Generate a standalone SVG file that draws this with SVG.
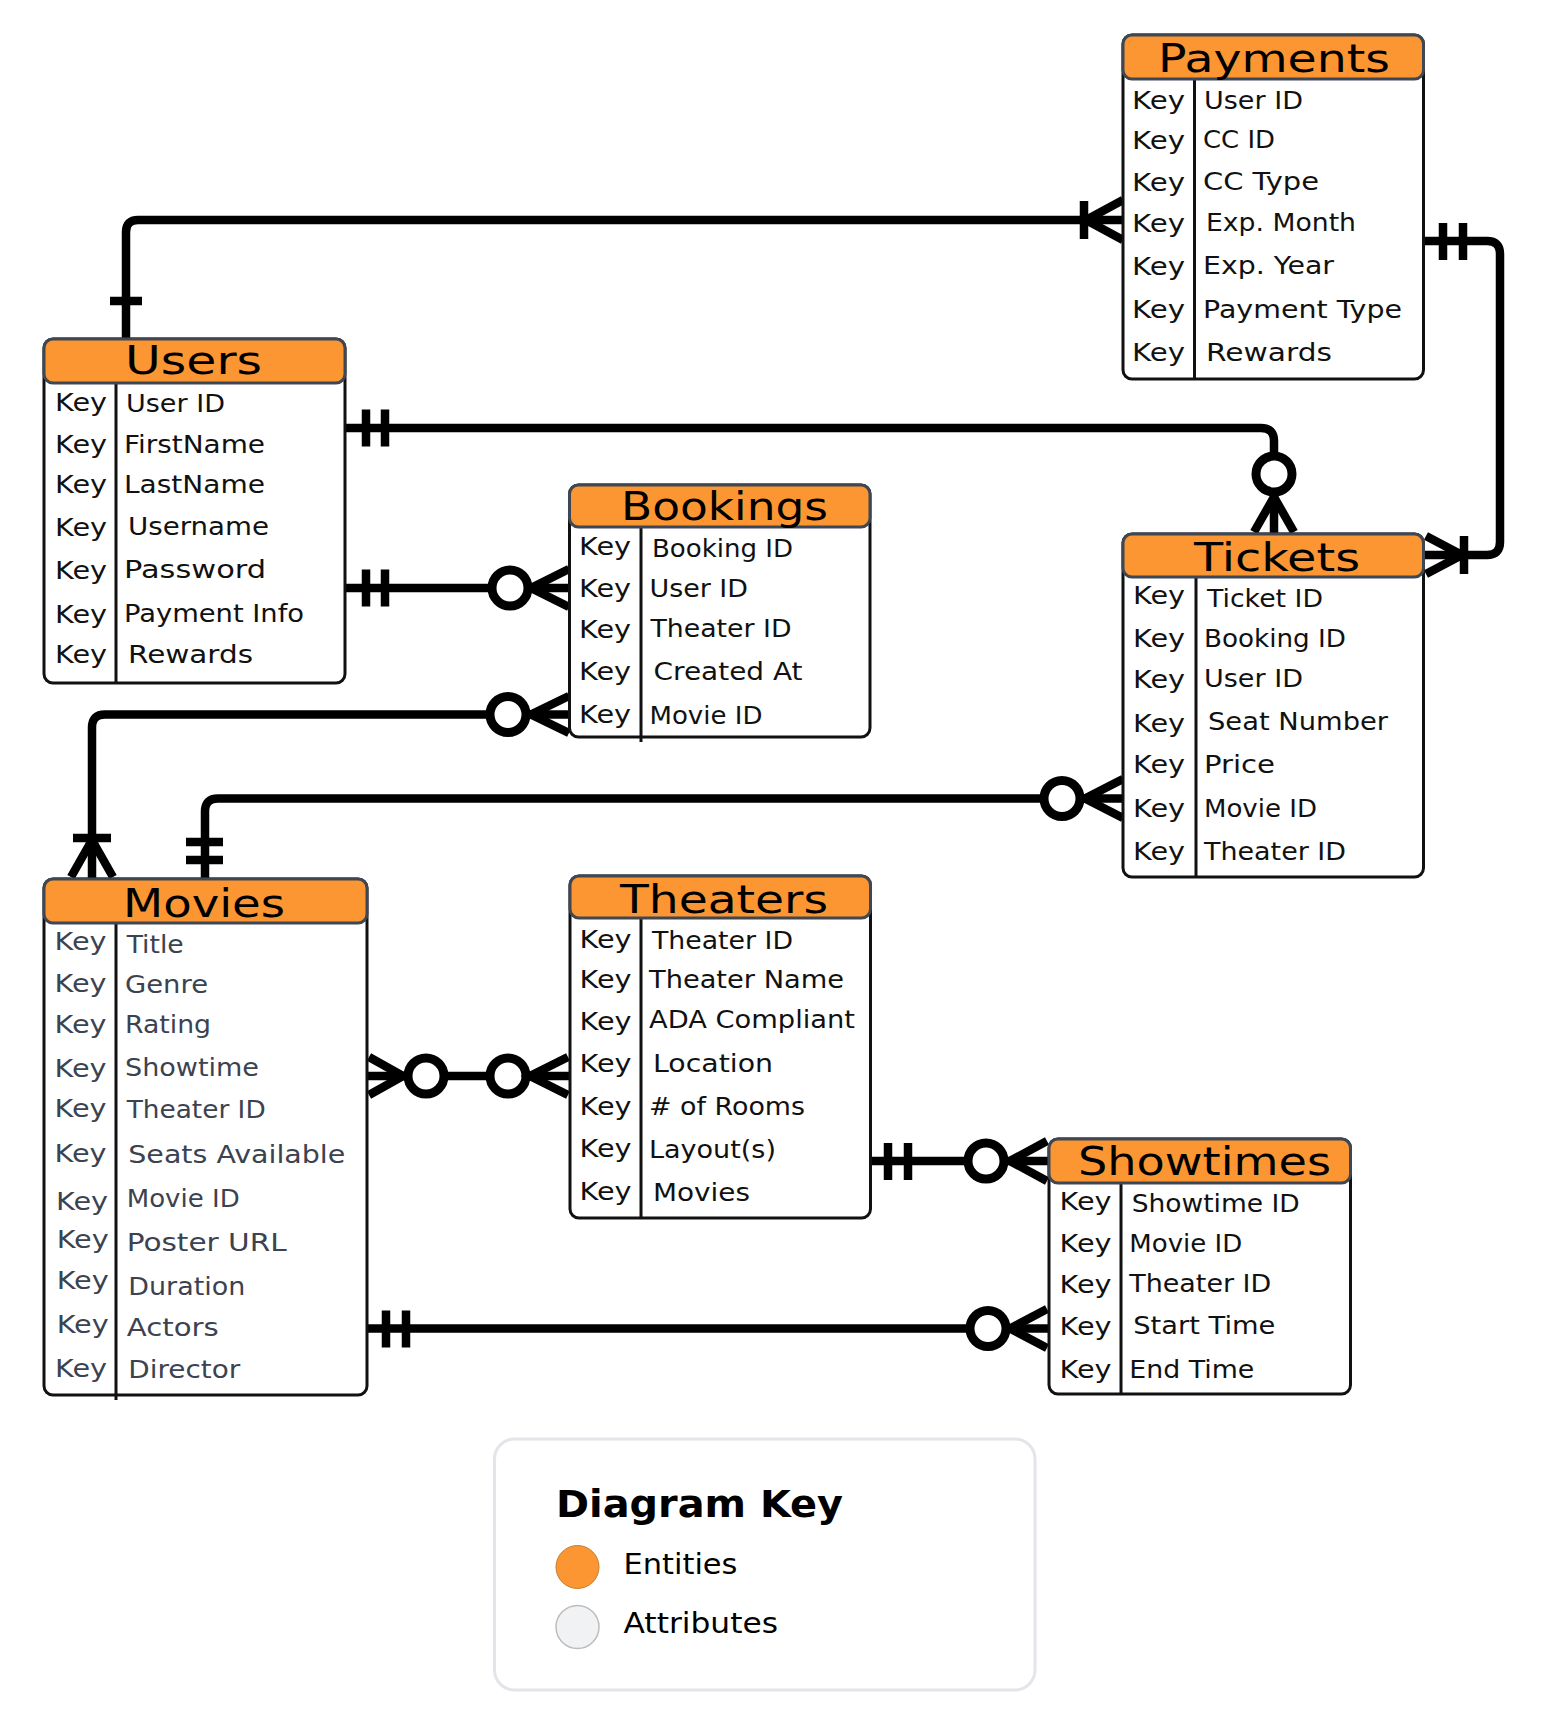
<svg xmlns="http://www.w3.org/2000/svg" width="1549" height="1712" viewBox="0 0 1549 1712">
<style>
.bg{fill:#fff}
.box{fill:#fff;stroke:#111;stroke-width:3}
.hdr{fill:#fb9633;stroke:#3f4753;stroke-width:3}
.dv{stroke:#111;stroke-width:3}
text{font-family:"DejaVu Sans","Liberation Sans",sans-serif}
.t{font-size:24px;fill:#111}
.m{font-size:24px;fill:#3b4250}
.ttl{font-size:39px;fill:#000}
.conn{fill:none;stroke:#000;stroke-width:8.5}
.mk{fill:none;stroke:#000;stroke-width:8.5;stroke-linecap:butt}
.ring{fill:#fff;stroke:#000;stroke-width:9}
.lg{fill:#fff;stroke:#e3e5ea;stroke-width:3}
</style>
<rect class="bg" x="0" y="0" width="1549" height="1712"/>

<g id="connectors">
  <!-- Users - Payments -->
  <path class="conn" d="M126 339 V232 Q126 220 138 220 H1123"/>
  <path class="mk" d="M110 301 H142"/>
  <path class="mk" d="M1084 201 V239 M1123 200 L1086 220 L1123 240"/>
  <!-- Payments - Tickets -->
  <path class="conn" d="M1424 241 H1487 Q1500 241 1500 254 V542 Q1500 555 1487 555 H1424"/>
  <path class="mk" d="M1443 223 V260 M1463 223 V260"/>
  <path class="mk" d="M1464 536 V574 M1426 536 L1462 555 L1426 574"/>
  <!-- Users - Tickets -->
  <path class="conn" d="M345 428 H1261 Q1274 428 1274 441 V534"/>
  <path class="mk" d="M366 409.5 V446.5 M385 409.5 V446.5"/>
  <path class="mk" d="M1254 532 L1274 497 L1294 532"/>
  <circle class="ring" cx="1274" cy="474" r="18"/>
  <!-- Users - Bookings -->
  <path class="conn" d="M345 588 H569"/>
  <path class="mk" d="M366 569.5 V606.5 M385 569.5 V606.5"/>
  <path class="mk" d="M569 569 L531 588 L569 607"/>
  <circle class="ring" cx="510" cy="588" r="18"/>
  <!-- Bookings - Movies -->
  <path class="conn" d="M569 714.5 H105 Q92 714.5 92 727.5 V879"/>
  <path class="mk" d="M569 696 L531 714.5 L569 733"/>
  <circle class="ring" cx="508" cy="714.5" r="18"/>
  <path class="mk" d="M73 838 H111 M71 877 L92 840 L113 877"/>
  <!-- Tickets - Movies -->
  <path class="conn" d="M1123 798.5 H218 Q205 798.5 205 811.5 V879"/>
  <path class="mk" d="M1123 779 L1085 798.5 L1123 818"/>
  <circle class="ring" cx="1062" cy="798.5" r="18"/>
  <path class="mk" d="M186 842 H223 M186 860 H223"/>
  <!-- Movies - Theaters -->
  <path class="conn" d="M367 1076 H570"/>
  <path class="mk" d="M369 1057 L403 1076 L369 1095"/>
  <circle class="ring" cx="426" cy="1076" r="18"/>
  <circle class="ring" cx="508" cy="1076" r="18"/>
  <path class="mk" d="M568 1057 L530 1076 L568 1095"/>
  <!-- Theaters - Showtimes -->
  <path class="conn" d="M870 1161 H1049"/>
  <path class="mk" d="M888 1143 V1180 M908 1143 V1180"/>
  <path class="mk" d="M1047 1141 L1010 1161 L1047 1181"/>
  <circle class="ring" cx="986" cy="1161" r="18"/>
  <!-- Movies - Showtimes -->
  <path class="conn" d="M367 1328.5 H1049"/>
  <path class="mk" d="M386 1310.5 V1347.5 M406 1310.5 V1347.5"/>
  <path class="mk" d="M1047 1309 L1010 1328.5 L1047 1348"/>
  <circle class="ring" cx="988" cy="1328.5" r="18"/>
</g>

<g id="payments">
  <rect class="box" x="1123" y="35" width="300.5" height="344" rx="9"/>
  <line class="dv" x1="1194.5" y1="79" x2="1194.5" y2="379"/>
  <rect class="hdr" x="1123" y="35" width="300.5" height="44" rx="9"/>
  <text class="ttl" x="1158" y="71.5" textLength="232" lengthAdjust="spacingAndGlyphs">Payments</text>
  <text class="t" x="1132" y="108.5" textLength="53" lengthAdjust="spacingAndGlyphs">Key</text>
  <text class="t" x="1132" y="148.5" textLength="53" lengthAdjust="spacingAndGlyphs">Key</text>
  <text class="t" x="1132" y="190.5" textLength="53" lengthAdjust="spacingAndGlyphs">Key</text>
  <text class="t" x="1132" y="232" textLength="53" lengthAdjust="spacingAndGlyphs">Key</text>
  <text class="t" x="1132" y="275" textLength="53" lengthAdjust="spacingAndGlyphs">Key</text>
  <text class="t" x="1132" y="317.5" textLength="53" lengthAdjust="spacingAndGlyphs">Key</text>
  <text class="t" x="1132" y="360.5" textLength="53" lengthAdjust="spacingAndGlyphs">Key</text>
  <text class="t" x="1204" y="109" textLength="99" lengthAdjust="spacingAndGlyphs">User ID</text>
  <text class="t" x="1203" y="148" textLength="72" lengthAdjust="spacingAndGlyphs">CC ID</text>
  <text class="t" x="1203" y="190" textLength="116" lengthAdjust="spacingAndGlyphs">CC Type</text>
  <text class="t" x="1206" y="231" textLength="150" lengthAdjust="spacingAndGlyphs">Exp. Month</text>
  <text class="t" x="1203" y="274" textLength="131" lengthAdjust="spacingAndGlyphs">Exp. Year</text>
  <text class="t" x="1203" y="318" textLength="199" lengthAdjust="spacingAndGlyphs">Payment Type</text>
  <text class="t" x="1206" y="361" textLength="126" lengthAdjust="spacingAndGlyphs">Rewards</text>
</g>

<g id="users">
  <rect class="box" x="44" y="339" width="301" height="344" rx="9"/>
  <line class="dv" x1="116" y1="383" x2="116" y2="683"/>
  <rect class="hdr" x="44" y="339" width="301" height="44" rx="9"/>
  <text class="ttl" x="125" y="374" textLength="137" lengthAdjust="spacingAndGlyphs">Users</text>
  <text class="t" x="55" y="411" textLength="52" lengthAdjust="spacingAndGlyphs">Key</text>
  <text class="t" x="55" y="453" textLength="52" lengthAdjust="spacingAndGlyphs">Key</text>
  <text class="t" x="55" y="493" textLength="52" lengthAdjust="spacingAndGlyphs">Key</text>
  <text class="t" x="55" y="536" textLength="52" lengthAdjust="spacingAndGlyphs">Key</text>
  <text class="t" x="55" y="579" textLength="52" lengthAdjust="spacingAndGlyphs">Key</text>
  <text class="t" x="55" y="623" textLength="52" lengthAdjust="spacingAndGlyphs">Key</text>
  <text class="t" x="55" y="663" textLength="52" lengthAdjust="spacingAndGlyphs">Key</text>
  <text class="t" x="126" y="412" textLength="99" lengthAdjust="spacingAndGlyphs">User ID</text>
  <text class="t" x="124" y="453" textLength="141" lengthAdjust="spacingAndGlyphs">FirstName</text>
  <text class="t" x="124" y="493" textLength="141" lengthAdjust="spacingAndGlyphs">LastName</text>
  <text class="t" x="128" y="535" textLength="141" lengthAdjust="spacingAndGlyphs">Username</text>
  <text class="t" x="124" y="578" textLength="142" lengthAdjust="spacingAndGlyphs">Password</text>
  <text class="t" x="124" y="622" textLength="180" lengthAdjust="spacingAndGlyphs">Payment Info</text>
  <text class="t" x="128" y="663" textLength="125" lengthAdjust="spacingAndGlyphs">Rewards</text>
</g>

<g id="bookings">
  <rect class="box" x="569.5" y="485" width="300.5" height="252" rx="9"/>
  <line class="dv" x1="641" y1="527" x2="641" y2="742"/>
  <rect class="hdr" x="569.5" y="485" width="300.5" height="42" rx="9"/>
  <text class="ttl" x="621" y="520" textLength="207" lengthAdjust="spacingAndGlyphs">Bookings</text>
  <text class="t" x="579" y="555" textLength="52" lengthAdjust="spacingAndGlyphs">Key</text>
  <text class="t" x="579" y="597" textLength="52" lengthAdjust="spacingAndGlyphs">Key</text>
  <text class="t" x="579" y="638" textLength="52" lengthAdjust="spacingAndGlyphs">Key</text>
  <text class="t" x="579" y="680" textLength="52" lengthAdjust="spacingAndGlyphs">Key</text>
  <text class="t" x="579" y="723" textLength="52" lengthAdjust="spacingAndGlyphs">Key</text>
  <text class="t" x="652" y="557" textLength="141" lengthAdjust="spacingAndGlyphs">Booking ID</text>
  <text class="t" x="649.5" y="597" textLength="98.5" lengthAdjust="spacingAndGlyphs">User ID</text>
  <text class="t" x="650.5" y="637" textLength="141" lengthAdjust="spacingAndGlyphs">Theater ID</text>
  <text class="t" x="653.5" y="680" textLength="149" lengthAdjust="spacingAndGlyphs">Created At</text>
  <text class="t" x="649.5" y="724" textLength="113" lengthAdjust="spacingAndGlyphs">Movie ID</text>
</g>

<g id="tickets">
  <rect class="box" x="1123" y="534" width="300.5" height="343" rx="9"/>
  <line class="dv" x1="1196" y1="577" x2="1196" y2="877"/>
  <rect class="hdr" x="1123" y="534" width="300.5" height="43" rx="9"/>
  <text class="ttl" x="1194" y="570.5" textLength="166" lengthAdjust="spacingAndGlyphs">Tickets</text>
  <text class="t" x="1133" y="604" textLength="52" lengthAdjust="spacingAndGlyphs">Key</text>
  <text class="t" x="1133" y="647" textLength="52" lengthAdjust="spacingAndGlyphs">Key</text>
  <text class="t" x="1133" y="688" textLength="52" lengthAdjust="spacingAndGlyphs">Key</text>
  <text class="t" x="1133" y="731.5" textLength="52" lengthAdjust="spacingAndGlyphs">Key</text>
  <text class="t" x="1133" y="773" textLength="52" lengthAdjust="spacingAndGlyphs">Key</text>
  <text class="t" x="1133" y="817" textLength="52" lengthAdjust="spacingAndGlyphs">Key</text>
  <text class="t" x="1133" y="860" textLength="52" lengthAdjust="spacingAndGlyphs">Key</text>
  <text class="t" x="1207" y="607" textLength="116" lengthAdjust="spacingAndGlyphs">Ticket ID</text>
  <text class="t" x="1204" y="647" textLength="142" lengthAdjust="spacingAndGlyphs">Booking ID</text>
  <text class="t" x="1204" y="687" textLength="99" lengthAdjust="spacingAndGlyphs">User ID</text>
  <text class="t" x="1208" y="730" textLength="180" lengthAdjust="spacingAndGlyphs">Seat Number</text>
  <text class="t" x="1204" y="773" textLength="71" lengthAdjust="spacingAndGlyphs">Price</text>
  <text class="t" x="1204" y="817" textLength="113" lengthAdjust="spacingAndGlyphs">Movie ID</text>
  <text class="t" x="1204" y="860" textLength="142" lengthAdjust="spacingAndGlyphs">Theater ID</text>
</g>

<g id="movies">
  <rect class="box" x="44" y="879" width="323" height="516" rx="9"/>
  <line class="dv" x1="116" y1="923" x2="116" y2="1400"/>
  <rect class="hdr" x="44" y="879" width="323" height="44" rx="9"/>
  <text class="ttl" x="123" y="917" textLength="162" lengthAdjust="spacingAndGlyphs">Movies</text>
  <text class="m" x="54.5" y="950" textLength="52" lengthAdjust="spacingAndGlyphs">Key</text>
  <text class="m" x="54.5" y="992" textLength="52" lengthAdjust="spacingAndGlyphs">Key</text>
  <text class="m" x="54.5" y="1033" textLength="52" lengthAdjust="spacingAndGlyphs">Key</text>
  <text class="m" x="54.5" y="1077" textLength="52" lengthAdjust="spacingAndGlyphs">Key</text>
  <text class="m" x="54.5" y="1117" textLength="52" lengthAdjust="spacingAndGlyphs">Key</text>
  <text class="m" x="54.5" y="1162" textLength="52" lengthAdjust="spacingAndGlyphs">Key</text>
  <text class="m" x="56" y="1210" textLength="52" lengthAdjust="spacingAndGlyphs">Key</text>
  <text class="m" x="56.7" y="1248" textLength="52" lengthAdjust="spacingAndGlyphs">Key</text>
  <text class="m" x="56.7" y="1289" textLength="52" lengthAdjust="spacingAndGlyphs">Key</text>
  <text class="m" x="56.7" y="1333" textLength="52" lengthAdjust="spacingAndGlyphs">Key</text>
  <text class="m" x="55" y="1377" textLength="52" lengthAdjust="spacingAndGlyphs">Key</text>
  <text class="m" x="126.7" y="953" textLength="57" lengthAdjust="spacingAndGlyphs">Title</text>
  <text class="m" x="125" y="993" textLength="83" lengthAdjust="spacingAndGlyphs">Genre</text>
  <text class="m" x="125" y="1033" textLength="86" lengthAdjust="spacingAndGlyphs">Rating</text>
  <text class="m" x="125" y="1076" textLength="134" lengthAdjust="spacingAndGlyphs">Showtime</text>
  <text class="m" x="126.7" y="1118" textLength="139" lengthAdjust="spacingAndGlyphs">Theater ID</text>
  <text class="m" x="128.3" y="1163" textLength="217" lengthAdjust="spacingAndGlyphs">Seats Available</text>
  <text class="m" x="126.7" y="1207" textLength="113" lengthAdjust="spacingAndGlyphs">Movie ID</text>
  <text class="m" x="126.7" y="1251" textLength="160" lengthAdjust="spacingAndGlyphs">Poster URL</text>
  <text class="m" x="128.3" y="1295" textLength="117" lengthAdjust="spacingAndGlyphs">Duration</text>
  <text class="m" x="126.7" y="1336" textLength="92" lengthAdjust="spacingAndGlyphs">Actors</text>
  <text class="m" x="128.3" y="1378" textLength="112" lengthAdjust="spacingAndGlyphs">Director</text>
</g>

<g id="theaters">
  <rect class="box" x="570" y="876" width="300.5" height="342" rx="9"/>
  <line class="dv" x1="641" y1="918" x2="641" y2="1218"/>
  <rect class="hdr" x="570" y="876" width="300.5" height="42" rx="9"/>
  <text class="ttl" x="620" y="913" textLength="208" lengthAdjust="spacingAndGlyphs">Theaters</text>
  <text class="t" x="579.5" y="948" textLength="52" lengthAdjust="spacingAndGlyphs">Key</text>
  <text class="t" x="579.5" y="988" textLength="52" lengthAdjust="spacingAndGlyphs">Key</text>
  <text class="t" x="579.5" y="1030" textLength="52" lengthAdjust="spacingAndGlyphs">Key</text>
  <text class="t" x="579.5" y="1072" textLength="52" lengthAdjust="spacingAndGlyphs">Key</text>
  <text class="t" x="579.5" y="1115" textLength="52" lengthAdjust="spacingAndGlyphs">Key</text>
  <text class="t" x="579.5" y="1157" textLength="52" lengthAdjust="spacingAndGlyphs">Key</text>
  <text class="t" x="579.5" y="1200" textLength="52" lengthAdjust="spacingAndGlyphs">Key</text>
  <text class="t" x="652" y="949" textLength="141" lengthAdjust="spacingAndGlyphs">Theater ID</text>
  <text class="t" x="649" y="988" textLength="195" lengthAdjust="spacingAndGlyphs">Theater Name</text>
  <text class="t" x="649" y="1028" textLength="206" lengthAdjust="spacingAndGlyphs">ADA Compliant</text>
  <text class="t" x="653" y="1072" textLength="120" lengthAdjust="spacingAndGlyphs">Location</text>
  <text class="t" x="649" y="1115" textLength="156" lengthAdjust="spacingAndGlyphs"># of Rooms</text>
  <text class="t" x="649" y="1158" textLength="127" lengthAdjust="spacingAndGlyphs">Layout(s)</text>
  <text class="t" x="653" y="1201" textLength="97" lengthAdjust="spacingAndGlyphs">Movies</text>
</g>

<g id="showtimes">
  <rect class="box" x="1049" y="1139" width="301.5" height="255" rx="9"/>
  <line class="dv" x1="1121" y1="1183" x2="1121" y2="1394"/>
  <rect class="hdr" x="1049" y="1139" width="301.5" height="44" rx="9"/>
  <text class="ttl" x="1078" y="1175" textLength="253" lengthAdjust="spacingAndGlyphs">Showtimes</text>
  <text class="t" x="1059.5" y="1210" textLength="52" lengthAdjust="spacingAndGlyphs">Key</text>
  <text class="t" x="1059.5" y="1252" textLength="52" lengthAdjust="spacingAndGlyphs">Key</text>
  <text class="t" x="1059.5" y="1293" textLength="52" lengthAdjust="spacingAndGlyphs">Key</text>
  <text class="t" x="1059.5" y="1335" textLength="52" lengthAdjust="spacingAndGlyphs">Key</text>
  <text class="t" x="1059.5" y="1378" textLength="52" lengthAdjust="spacingAndGlyphs">Key</text>
  <text class="t" x="1131.7" y="1212" textLength="168" lengthAdjust="spacingAndGlyphs">Showtime ID</text>
  <text class="t" x="1129.3" y="1252" textLength="113" lengthAdjust="spacingAndGlyphs">Movie ID</text>
  <text class="t" x="1129.3" y="1292" textLength="142" lengthAdjust="spacingAndGlyphs">Theater ID</text>
  <text class="t" x="1133.3" y="1334" textLength="142" lengthAdjust="spacingAndGlyphs">Start Time</text>
  <text class="t" x="1129.3" y="1378" textLength="125" lengthAdjust="spacingAndGlyphs">End Time</text>
</g>

<g id="legend">
  <rect class="lg" x="494.5" y="1439" width="540.5" height="251" rx="20"/>
  <text x="556" y="1517" font-size="37" font-weight="bold" fill="#000" textLength="287" lengthAdjust="spacingAndGlyphs">Diagram Key</text>
  <circle cx="577.5" cy="1567" r="21.5" fill="#fb9633" stroke="#c97b2c" stroke-width="1"/>
  <text x="623.5" y="1574" font-size="28" fill="#000" textLength="114" lengthAdjust="spacingAndGlyphs">Entities</text>
  <circle cx="577.5" cy="1627" r="21.5" fill="#f1f2f4" stroke="#bdbdbd" stroke-width="1.5"/>
  <text x="623.5" y="1633" font-size="28" fill="#000" textLength="154.5" lengthAdjust="spacingAndGlyphs">Attributes</text>
</g>
</svg>
